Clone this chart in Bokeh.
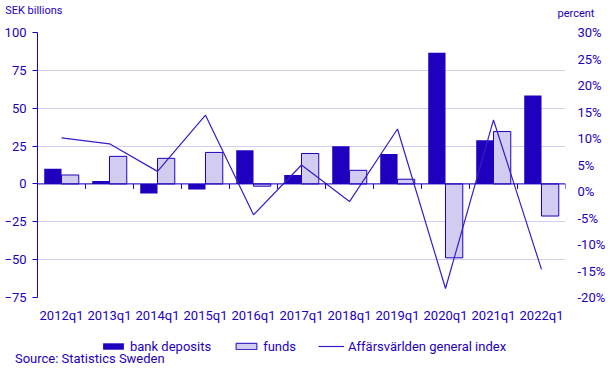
from bokeh.plotting import figure
from bokeh.layouts import column
from bokeh.models import (Range1d, LinearAxis, FixedTicker, Legend, LegendItem,
                          Span, ColumnDataSource, PrintfTickFormatter)
from bokeh.embed import file_html
from bokeh.resources import INLINE

# ---- data ----
categories = ["2012q1", "2013q1", "2014q1", "2015q1", "2016q1", "2017q1",
              "2018q1", "2019q1", "2020q1", "2021q1", "2022q1"]
bank_deposits = [10.0, 2.0, -6.4, -3.7, 22.3, 5.9, 24.9, 19.7, 86.7, 28.9, 58.4]
funds = [5.9, 18.2, 16.9, 20.8, -1.5, 20.1, 9.0, 3.1, -48.8, 34.6, -21.2]
general_index = [10.1, 9.0, 3.8, 14.4, -4.4, 5.0, -1.9, 11.8, -18.3, 13.5, -14.7]
left_ticks = [-75, -50, -25, 0, 25, 50, 75, 100]
right_ticks = [-20, -15, -10, -5, 0, 5, 10, 15, 20, 25, 30]
series_names = ["bank deposits", "funds", "Affärsvärlden general index"]
left_unit = "SEK billions"
right_unit = "percent"
source_note = "Source: Statistics Sweden"

DARK = "#1e00be"
LAV = "#d2cdf0"
GRID = "#d2cef0"
LINE = "#3520c6"
TEXT = "#1e00be"
FONT = "Roboto"
W = 608
BL, BR = 37, 41          # side borders shared by all three strips
NAN = float("nan")

n = len(categories)
xc = [i + 0.5 for i in range(n)]
src = ColumnDataSource(dict(
    xc=xc,
    xb=[x - 0.18 for x in xc],
    xf=[x + 0.18 for x in xc],
    bank=bank_deposits,
    funds=funds,
    idx=general_index,
))


def text_axis(ax, tick, label, size, standoff):
    ax.ticker = FixedTicker(ticks=[tick])
    ax.major_label_overrides = {tick: label}
    ax.axis_line_color = None
    ax.major_tick_line_color = None
    ax.minor_tick_line_color = None
    ax.major_tick_out = 0
    ax.major_tick_in = 0
    ax.major_label_standoff = standoff
    ax.major_label_text_font = FONT
    ax.major_label_text_font_size = size
    ax.major_label_text_color = TEXT


# ---- top strip: unit captions ----
top = figure(width=W, height=24, x_range=Range1d(0, 1), y_range=Range1d(0, 24),
             output_backend="svg", toolbar_location=None, x_axis_location=None,
             min_border_left=BL, min_border_right=BR, min_border_top=0, min_border_bottom=0)
top.outline_line_color = None
top.grid.visible = False
text_axis(top.yaxis[0], 14, left_unit, "11px", -25)
rcap = LinearAxis()
text_axis(rcap, 11.3, right_unit, "11px", -8)
top.add_layout(rcap, "right")

# ---- main chart ----
p = figure(width=W, height=301, x_range=Range1d(0, n), y_range=Range1d(-75, 100),
           output_backend="svg", toolbar_location=None,
           min_border_left=BL, min_border_right=BR, min_border_top=8, min_border_bottom=26)
p.outline_line_color = None
p.extra_y_ranges = {"pct": Range1d(-20, 30)}

yax = p.yaxis[0]
yax.ticker = FixedTicker(ticks=left_ticks)
yax.axis_line_color = DARK
yax.major_tick_line_color = DARK
yax.major_tick_out = 5
yax.major_tick_in = 0
yax.minor_tick_line_color = None
yax.major_label_standoff = 6
yax.major_label_text_font = FONT
yax.major_label_text_font_size = "13px"
yax.major_label_text_color = TEXT

rax = LinearAxis(y_range_name="pct", ticker=FixedTicker(ticks=right_ticks),
                 formatter=PrintfTickFormatter(format="%d%%"))
rax.axis_line_color = None
rax.major_tick_line_color = None
rax.minor_tick_line_color = None
rax.major_tick_out = 0
rax.major_tick_in = 0
rax.major_label_standoff = 12
rax.major_label_text_font = FONT
rax.major_label_text_font_size = "13px"
rax.major_label_text_color = TEXT
p.add_layout(rax, "right")

xax = p.xaxis[0]
xax.ticker = FixedTicker(ticks=xc)
xax.major_label_overrides = {x: c for x, c in zip(xc, categories)}
xax.axis_line_color = None
xax.major_tick_line_color = None
xax.minor_tick_line_color = None
xax.major_tick_out = 0
xax.major_tick_in = 0
xax.major_label_standoff = 10
xax.major_label_text_font = FONT
xax.major_label_text_font_size = "13px"
xax.major_label_text_color = TEXT

p.xgrid.visible = False
p.ygrid.ticker = FixedTicker(ticks=left_ticks)
p.ygrid.grid_line_color = GRID
p.ygrid.grid_line_width = 1

p.vbar(x="xb", top="bank", width=0.36, source=src, fill_color=DARK, line_color=None)
p.vbar(x="xf", top="funds", width=0.36, source=src, fill_color=LAV, line_color=DARK, line_width=1)
p.add_layout(Span(location=0, dimension="width", line_color=DARK, line_width=1))
bounds = list(range(1, n + 1))
p.segment(x0=bounds, x1=bounds, y0=[0] * n, y1=[-3.3] * n, line_color=DARK, line_width=1)
p.line(x="xc", y="idx", source=src, y_range_name="pct", line_color=LINE, line_width=1.2)

# ---- bottom strip: legend + source ----
bot = figure(width=W, height=43, x_range=Range1d(0, W - BL - BR), y_range=Range1d(0, 35),
             output_backend="svg", toolbar_location=None, y_axis_location=None,
             min_border_left=BL, min_border_right=BR, min_border_top=0, min_border_bottom=8)
bot.outline_line_color = None
bot.grid.visible = False
k_bank = bot.vbar(x=[NAN], top=[NAN], width=1, fill_color=DARK, line_color=None)
k_funds = bot.vbar(x=[NAN], top=[NAN], width=1, fill_color=LAV, line_color=DARK, line_width=1)
k_line = bot.line(x=[NAN], y=[NAN], line_color=LINE, line_width=1.2)
legend = Legend(items=[LegendItem(label=series_names[0], renderers=[k_bank]),
                       LegendItem(label=series_names[1], renderers=[k_funds]),
                       LegendItem(label=series_names[2], renderers=[k_line])],
                orientation="horizontal", location=(63, 2),
                border_line_color=None, background_fill_alpha=0,
                glyph_width=26, glyph_height=8, label_height=16,
                label_standoff=4, spacing=22, padding=0, margin=0,
                label_text_font=FONT, label_text_font_size="13px", label_text_color=TEXT)
bot.add_layout(legend)
text_axis(bot.xaxis[0], 52.5, source_note, "13px", -6)

layout = column(top, p, bot, spacing=0)
open("out.html", "w").write(file_html(layout, INLINE))
